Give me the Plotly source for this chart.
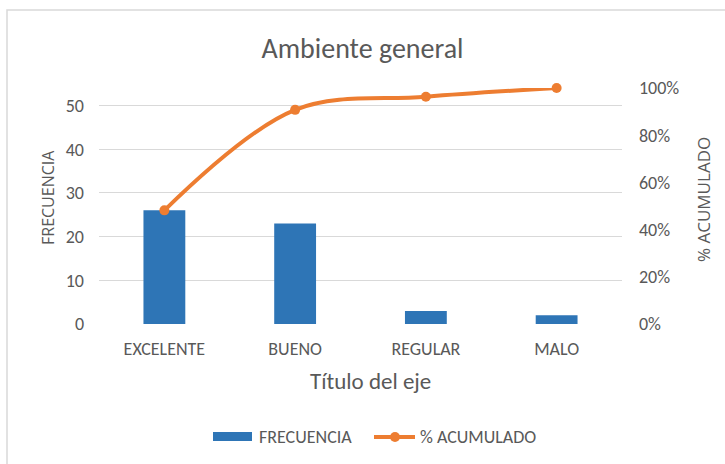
import plotly.graph_objects as go

categories = ["EXCELENTE", "BUENO", "REGULAR", "MALO"]
frecuencia = [26, 23, 3, 2]
acumulado = [0.4815, 0.9074, 0.9630, 1.0]
left_ticks = [0, 10, 20, 30, 40, 50]
right_ticks = [0, 0.2, 0.4, 0.6, 0.8, 1.0]

W, H = 725, 464
L, R, T, B = 99, 622, 88, 324
pw, ph = R - L, B - T

FONT = "Carlito, Lato, sans-serif"
FONT2 = "Open Sans, DejaVu Sans, sans-serif"
GREY = "#595959"
BLUE = "#2E75B6"
ORANGE = "#ED7D31"


def px(x):
    return (x - L) / pw


def py(y):
    return (B - y) / ph


fig = go.Figure()
fig.add_trace(go.Bar(x=categories, y=frecuencia, name="FRECUENCIA",
                     marker=dict(color=BLUE, line=dict(width=0)),
                     width=0.32, yaxis="y", showlegend=False))
fig.add_trace(go.Scatter(x=categories, y=acumulado, name="% ACUMULADO",
                         mode="lines+markers", yaxis="y2", showlegend=False, cliponaxis=False,
                         line=dict(color=ORANGE, width=4, shape="spline", smoothing=1.0),
                         marker=dict(color=ORANGE, size=10)))

fig.update_layout(
    width=W, height=H,
    margin=dict(l=L, r=W - R, t=T, b=H - B, autoexpand=False),
    paper_bgcolor="white", plot_bgcolor="white",
    font=dict(family=FONT, color=GREY, size=18),
    title=dict(text="Ambiente general", x=0.5, xanchor="center", y=1 - 48 / H, yanchor="middle",
               font=dict(family=FONT, size=28, color=GREY)),
    xaxis=dict(showgrid=False, showline=False, ticks="", tickfont=dict(size=18),
               ticklabelstandoff=12),
    yaxis=dict(range=[0, 54], tickvals=left_ticks, showgrid=True, gridcolor="#d9d9d9",
               gridwidth=1, zeroline=False, showline=False, ticks="", tickfont=dict(size=18),
               ticklabelstandoff=14),
    yaxis2=dict(range=[0, 1], overlaying="y", side="right", tickvals=right_ticks,
                tickformat=".0%", showgrid=False, zeroline=False, showline=False, ticks="",
                tickfont=dict(size=18), ticklabelstandoff=16),
    showlegend=False,
)

# axis titles
fig.add_annotation(text="FRECUENCIA", xref="paper", yref="paper", x=px(48), y=py(198),
                   textangle=-90, showarrow=False, xanchor="center", yanchor="middle",
                   font=dict(family=FONT2, size=16, color=GREY))
fig.add_annotation(text="% ACUMULADO", xref="paper", yref="paper", x=px(703), y=py(200),
                   textangle=-90, showarrow=False, xanchor="center", yanchor="middle",
                   font=dict(family=FONT2, size=17, color=GREY))
fig.add_annotation(text="Título del eje", xref="paper", yref="paper", x=px(370), y=py(381),
                   showarrow=False, xanchor="center", yanchor="middle",
                   font=dict(family=FONT, size=23, color=GREY))

# legend (drawn manually to match swatch shapes)
fig.add_shape(type="rect", xref="paper", yref="paper", x0=px(213), x1=px(252),
              y0=py(441), y1=py(432), fillcolor=BLUE, line=dict(width=0))
fig.add_annotation(text="FRECUENCIA", xref="paper", yref="paper", x=px(257), y=py(437),
                   showarrow=False, xanchor="left", yanchor="middle",
                   font=dict(family=FONT, size=18, color=GREY))
fig.add_shape(type="line", xref="paper", yref="paper", x0=px(374), x1=px(415),
              y0=py(437), y1=py(437), line=dict(color=ORANGE, width=4))
fig.add_shape(type="circle", xref="paper", yref="paper", x0=px(390), x1=px(400),
              y0=py(442), y1=py(432), fillcolor=ORANGE, line=dict(width=0))
fig.add_annotation(text="% ACUMULADO", xref="paper", yref="paper", x=px(418), y=py(437),
                   showarrow=False, xanchor="left", yanchor="middle",
                   font=dict(family=FONT, size=18, color=GREY))

# chart border
fig.add_shape(type="rect", xref="paper", yref="paper",
              x0=px(7), x1=px(740), y0=py(480), y1=py(10),
              line=dict(color="#d9d9d9", width=1.5), fillcolor="rgba(0,0,0,0)", layer="below")

fig.write_html("out.html", config={"displayModeBar": False},
               post_script="document.body.style.margin='0px';")
